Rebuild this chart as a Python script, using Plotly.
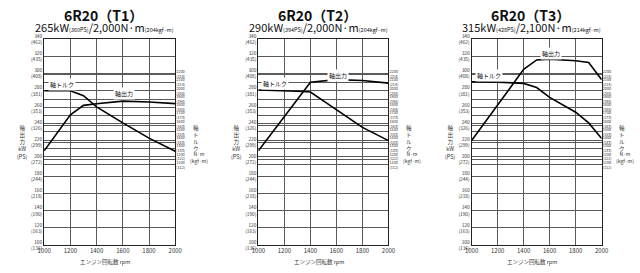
import plotly.graph_objects as go

W, H = 640, 273

# ---------------- data ----------------
rpm_ticks = [1000, 1200, 1400, 1600, 1800, 2000]
kw_ticks = [340, 320, 300, 280, 260, 240, 220, 200, 180, 160, 140, 120, 100]
ps_ticks = [462, 435, 408, 381, 353, 326, 299, 272, 244, 218, 190, 163, 136]
nm_ticks = [2200, 2100, 2000, 1900, 1800, 1700, 1600, 1500, 1400, 1300, 1200, 1100]
kgfm_ticks = [224, 214, 204, 194, 184, 173, 163, 153, 143, 133, 122, 112]

titles = ["6R20（T1）", "6R20（T2）", "6R20（T3）"]
rated_kw = ["265", "290", "315"]
rated_ps = ["360", "394", "428"]
rated_nm = ["2,000", "2,000", "2,100"]
rated_kgfm = ["204", "204", "214"]

t1_rpm = [1000, 1200, 1300, 1400, 1600, 1800, 2000]
t1_power = [210, 252, 263, 265, 268, 267, 265]
t1_torque = [2000, 2000, 1940, 1805, 1610, 1425, 1265]

t2_rpm = [1000, 1200, 1300, 1400, 1600, 1800, 2000]
t2_power = [210, 250, 270, 290, 293, 292, 289]
t2_torque = [2010, 2005, 1995, 1985, 1770, 1555, 1395]

t3_rpm = [1000, 1200, 1400, 1500, 1600, 1700, 1800, 1900, 2000]
t3_power = [222, 263, 305, 316, 317, 316, 315, 313, 293]
t3_torque = [2110, 2105, 2090, 2040, 1920, 1825, 1740, 1610, 1420]

rpms = [t1_rpm, t2_rpm, t3_rpm]
powers = [t1_power, t2_power, t3_power]
torques = [t1_torque, t2_torque, t3_torque]

# ---------------- layout geometry ----------------
panels_px = [(38, 172), (257, 390), (475, 608)]
top_px, bot_px = 34, 250
KW_RANGE = [100, 340]
# torque axis: 2000 N·m aligned with 280 kW, 100 N·m ~ 9.6 kW
K = 0.096
NM_RANGE = [2000 + (100 - 280) / K, 2000 + (340 - 280) / K]

def px(x):
    return x / W

def py(y):
    return 1 - y / H

GRID = "#5a5a5a"
LINE = "#222222"
TXT = "#333333"
JP = "Noto Sans CJK JP"

fig = go.Figure()
layout = dict(
    width=W, height=H, margin=dict(l=0, r=0, t=0, b=0),
    paper_bgcolor="white", plot_bgcolor="white", showlegend=False,
    font=dict(family=JP, color=TXT),
)
annotations = []

for i in range(3):
    n = i + 1
    xa = "x" if n == 1 else f"x{n}"
    ya = "y" if n == 1 else f"y{n}"
    yr = f"y{n + 3}"
    x0, x1 = panels_px[i]
    dom_x = [px(x0), px(x1)]
    dom_y = [py(bot_px), py(top_px)]

    layout["xaxis" + ("" if n == 1 else str(n))] = dict(
        domain=dom_x, anchor=ya, range=[1000, 2000],
        tickvals=rpm_ticks, ticktext=[str(v) for v in rpm_ticks],
        showgrid=True, gridcolor=GRID, gridwidth=1,
        showline=True, linecolor=LINE, linewidth=1, mirror=True,
        zeroline=False, ticks="", tickfont=dict(size=6, color=TXT, family=JP),
    )
    layout["yaxis" + ("" if n == 1 else str(n))] = dict(
        domain=dom_y, anchor=xa, range=KW_RANGE,
        tickvals=kw_ticks, ticktext=[f"{a}<br>({b})" for a, b in zip(kw_ticks, ps_ticks)],
        showgrid=True, gridcolor=GRID, gridwidth=1,
        showline=True, linecolor=LINE, linewidth=1, mirror=True,
        zeroline=False, ticks="", tickfont=dict(size=4.8, color=TXT, family=JP),
    )
    layout[f"yaxis{n + 3}"] = dict(
        domain=dom_y, anchor=xa, overlaying=ya, side="right", range=NM_RANGE,
        tickvals=nm_ticks, ticktext=[f"{a}<br>({b})" for a, b in zip(nm_ticks, kgfm_ticks)],
        showgrid=True, gridcolor=GRID, gridwidth=0.8,
        showline=False, zeroline=False, ticks="",
        tickfont=dict(size=3.8, color=TXT, family=JP),
    )

    fig.add_trace(go.Scatter(x=rpms[i], y=powers[i], mode="lines",
                             line=dict(color="black", width=1.6),
                             xaxis=xa, yaxis=ya, hoverinfo="skip"))
    fig.add_trace(go.Scatter(x=rpms[i], y=torques[i], mode="lines",
                             line=dict(color="black", width=1.6),
                             xaxis=xa, yaxis=yr, hoverinfo="skip"))

    cx = (x0 + x1) / 2
    annotations.append(dict(
        text=f"<b>{titles[i]}</b>", x=px(cx - 6), y=py(8.5), xref="paper", yref="paper",
        showarrow=False, font=dict(size=14, color="#111", family=JP),
        xanchor="center", yanchor="middle"))
    sub = (f"{rated_kw[i]}kW<span style='font-size:5.5px'>({rated_ps[i]}PS)</span>"
           f"/{rated_nm[i]}N·m<span style='font-size:5.5px'>({rated_kgfm[i]}kgf·m)</span>")
    annotations.append(dict(
        text=sub, x=px(cx - 5), y=py(21.5), xref="paper", yref="paper",
        showarrow=False, font=dict(size=11, color="#111", family=JP),
        xanchor="center", yanchor="middle"))
    annotations.append(dict(
        text="エンジン回転数 rpm", x=px(cx - 5), y=py(268), xref="paper", yref="paper",
        showarrow=False, font=dict(size=5.5, color=TXT, family=JP),
        xanchor="center", yanchor="middle"))
    annotations.append(dict(
        text="軸<br>出<br>力<br>kW<br>(PS)", x=px(x0 - 22), y=py(142), xref="paper", yref="paper",
        showarrow=False, font=dict(size=5.5, color=TXT, family=JP),
        xanchor="center", yanchor="middle", align="center"))
    annotations.append(dict(
        text="軸<br>ト<br>ル<br>ク", x=px(x1 + 21), y=py(138), xref="paper", yref="paper",
        showarrow=False, font=dict(size=5.5, color=TXT, family=JP),
        xanchor="center", yanchor="middle", align="center"))
    annotations.append(dict(
        text="N·m<br>(kgf·m)", x=px(x1 + 24), y=py(158), xref="paper", yref="paper",
        showarrow=False, font=dict(size=5, color=TXT, family=JP),
        xanchor="center", yanchor="middle", align="center"))

# curve labels
label_pos = [
    [("軸トルク", 56, 81), ("軸出力", 120, 91)],
    [("軸トルク", 274, 80), ("軸出力", 338, 72)],
    [("軸トルク", 493, 72), ("軸出力", 556, 49)],
]
for labs in label_pos:
    for t, x, y in labs:
        annotations.append(dict(
            text=t, x=px(x), y=py(y), xref="paper", yref="paper",
            showarrow=False, font=dict(size=6, color="#111", family=JP),
            xanchor="center", yanchor="middle", bgcolor="white"))

layout["annotations"] = annotations
fig.update_layout(**layout)
fig.write_html("out.html")
